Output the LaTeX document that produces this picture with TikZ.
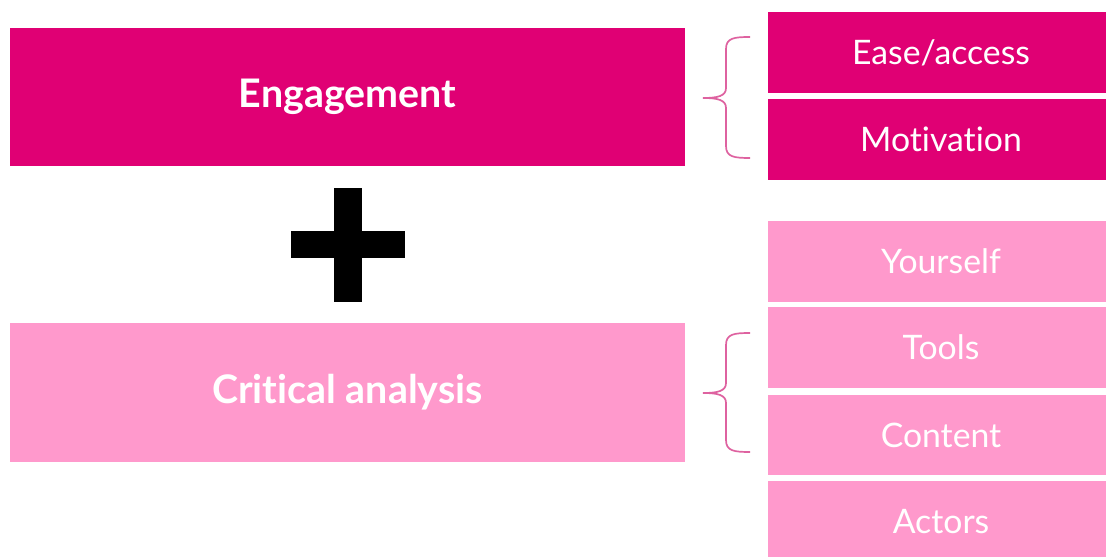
\documentclass[tikz,border=0pt]{standalone}
\usepackage{fontspec}
\setmainfont{Lato}[Ligatures=NoCommon]
\usetikzlibrary{positioning}
\definecolor{hotpink}{RGB}{224,0,116}
\definecolor{softpink}{RGB}{255,153,204}
\definecolor{bracepink}{RGB}{222,98,160}
\tikzset{
  every picture/.style={x=0.025cm, y=-0.025cm, line width=0.5pt},
  bigbox/.style={minimum width=168.75mm, minimum height=34.5mm, inner sep=0pt, text=white, font=\fontsize{28}{32}\selectfont\bfseries},
  tag/.style={minimum width=86.5mm, minimum height=20mm, inner sep=0pt, text=white, font=\fontsize{24}{28}\selectfont},
  hot/.style={fill=hotpink},
  soft/.style={fill=softpink},
  curly/.style={draw=bracepink, line width=1.2pt},
}

\begin{document}
\begin{tikzpicture}
  \useasboundingbox (0,0) rectangle (1106,557);
  % the two main ideas
  \node[bigbox, hot] (engage) at (347.5,97) {Engagement};
  \node[bigbox, soft] (critic) at (347.5,392.5) {Critical analysis};
  % plus sign between them
  \fill[black] (334,188) rectangle (362,302);
  \fill[black] (291,231) rectangle (405,258);
  % what each idea breaks down into
  \node[tag, hot] (ease) at (941,52.5) {Ease/access};
  \node[tag, hot] (motiv) at (941,139.5) {Motivation};
  \node[tag, soft] (self) at (941,261.5) {Yourself};
  \node[tag, soft] (tools) at (941,347.5) {Tools};
  \node[tag, soft] (content) at (941,435) {Content};
  \node[tag, soft] (actors) at (941,521.5) {Actors};
  % braces
  \foreach \top/\mid/\bot in {37/98/158, 333/393/452} {
    \draw[curly] (750,\top) .. controls (734,\top) and (726,\top+1) .. (726,\top+12)
      -- (726,\mid-10) .. controls (726,\mid-2) and (718,\mid) .. (703,\mid)
      .. controls (718,\mid) and (726,\mid+2) .. (726,\mid+10)
      -- (726,\bot-12) .. controls (726,\bot-1) and (734,\bot) .. (750,\bot);
  }
\end{tikzpicture}
\end{document}
